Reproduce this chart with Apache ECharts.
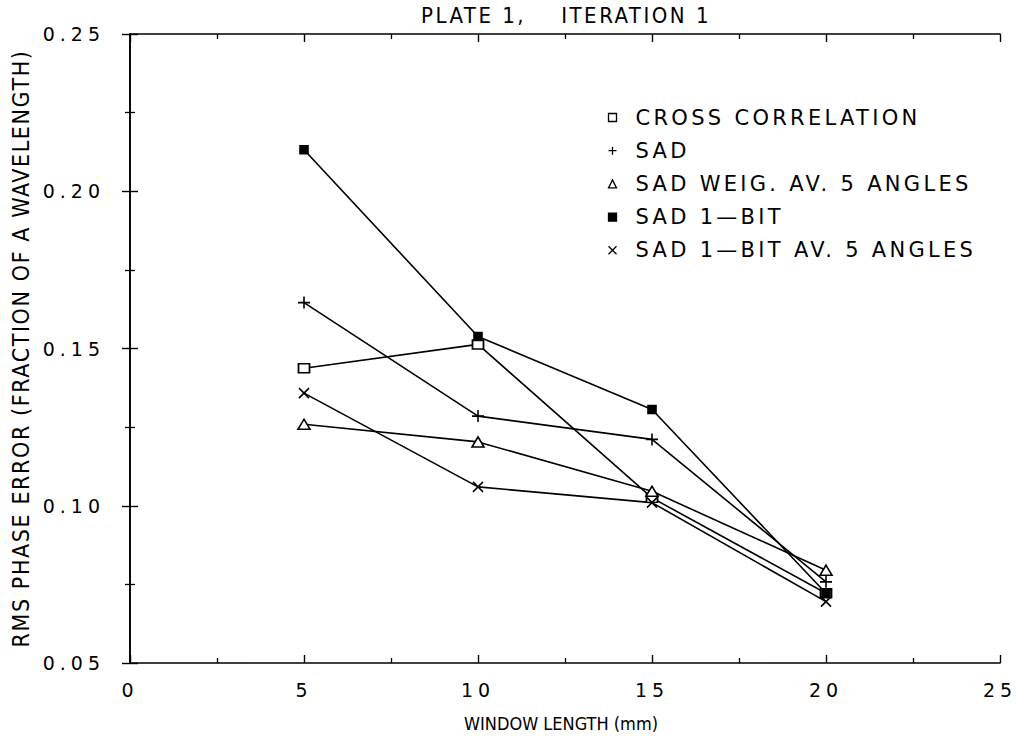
<!DOCTYPE html>
<html>
<head>
<meta charset="utf-8">
<script src="https://cdn.jsdelivr.net/npm/echarts@6/dist/echarts.min.js"></script>
<style>
  html, body { margin: 0; padding: 0; background: #fff; }
  #chart { width: 1024px; height: 755px; }
  #chart text { white-space: pre; }
</style>
</head>
<body>
<div id="chart"></div>
<script>
// ---- data ----
const windowLength = [5, 10, 15, 20];
const seriesNames = [
  'CROSS CORRELATION',
  'SAD',
  'SAD WEIG. AV. 5 ANGLES',
  'SAD 1\u2014BIT',
  'SAD 1\u2014BIT AV. 5 ANGLES'
];
const crossCorrelation = [0.1437, 0.1513, 0.1025, 0.0722];
const sad              = [0.1646, 0.1285, 0.1211, 0.0758];
const sadWeigAv5       = [0.1259, 0.1203, 0.1046, 0.0795];
const sad1Bit          = [0.2132, 0.1538, 0.1306, 0.0722];
const sad1BitAv5       = [0.1358, 0.1060, 0.1010, 0.0695];
const xTickLabels = ['0', '5', '10', '15', '20', '25'];
const yTickLabels = ['0.05', '0.10', '0.15', '0.20', '0.25'];
const titleText = 'PLATE 1,    ITERATION 1';
const xName = 'WINDOW LENGTH (mm)';
const yName = 'RMS PHASE ERROR (FRACTION OF A WAVELENGTH)';

const valuesList = [crossCorrelation, sad, sadWeigAv5, sad1Bit, sad1BitAv5];
const PLUS = 'path://M0,5 L10,5 M5,0 L5,10';
const CROSS = 'path://M0,0 L10,10 M10,0 L0,10';
const symbols = ['rect', PLUS, 'triangle', 'rect', CROSS];
const symbolSizes = [[11, 9], 12, [12, 10], [8, 8], 10];
const fills = ['#fff', 'none', '#fff', '#000', 'none'];

const wideFont = "'DejaVu Sans', sans-serif";
const narrowFont = "'Liberation Sans Narrow', 'DejaVu Sans Condensed', 'Liberation Sans', sans-serif";

const chart = echarts.init(document.getElementById('chart'), null, { renderer: 'svg' });

const series = valuesList.map((vals, i) => ({
  name: seriesNames[i],
  type: 'line',
  xAxisIndex: 0,
  yAxisIndex: 0,
  data: windowLength.map((x, j) => [x, vals[j]]),
  symbol: symbols[i],
  symbolSize: symbolSizes[i],
  showSymbol: true,
  lineStyle: { color: '#000', width: 1.6 },
  itemStyle: { color: fills[i], borderColor: '#000', borderWidth: 1.6 },
  emphasis: { disabled: true },
  z: 3
}));

const legendData = seriesNames.map((n, i) => ({
  name: n,
  icon: symbols[i],
  itemStyle: { color: fills[i], borderColor: '#000', borderWidth: 1.3 }
}));

function axisCommon() {
  return {
    axisLine: { show: true, lineStyle: { color: '#000', width: 1.6 } },
    axisTick: { show: true, inside: true, length: 8, lineStyle: { color: '#000', width: 1.4 } },
    minorTick: { show: true, splitNumber: 2, length: 5, lineStyle: { color: '#000', width: 1.3 } },
    splitLine: { show: false },
    minorSplitLine: { show: false }
  };
}

chart.setOption({
  animation: false,
  backgroundColor: '#fff',
  title: {
    text: titleText,
    left: 561, top: -1, textAlign: 'center',
    textStyle: { fontFamily: narrowFont, fontSize: 22, fontWeight: 'normal', color: '#000' }
  },
  grid: { left: 130, right: 24, top: 34, bottom: 92, containLabel: false, outerBoundsMode: 'none' },
  legend: {
    orient: 'vertical',
    left: 601, top: 102,
    itemWidth: 8, itemHeight: 8,
    itemGap: 12.2,
    selectedMode: false,
    data: legendData,
    textStyle: { fontFamily: wideFont, fontSize: 21, color: '#000', padding: [0, 0, 0, 14] }
  },
  xAxis: [
    Object.assign(axisCommon(), {
      type: 'value', min: 0, max: 25, interval: 5, position: 'bottom',
      name: xName, nameLocation: 'middle', nameGap: 51,
      nameTextStyle: { fontFamily: narrowFont, fontSize: 18, color: '#000', padding: [0, 8, 0, 0] },
      axisLabel: { margin: 17, fontFamily: wideFont, fontSize: 19, color: '#000',
                   formatter: v => xTickLabels[Math.round(v / 5)] }
    }),
    Object.assign(axisCommon(), {
      type: 'value', min: 0, max: 25, interval: 5, position: 'top',
      axisLabel: { show: false }
    })
  ],
  yAxis: [
    Object.assign(axisCommon(), {
      type: 'value', min: 0.05, max: 0.25, interval: 0.05, position: 'left',
      name: yName, nameLocation: 'middle', nameGap: 98, nameRotate: 90,
      nameTextStyle: { fontFamily: narrowFont, fontSize: 23, color: '#000' },
      axisLabel: { margin: 25, fontFamily: wideFont, fontSize: 19, color: '#000',
                   formatter: v => yTickLabels[Math.round((v - 0.05) / 0.05)] }
    }),
    Object.assign(axisCommon(), {
      type: 'value', min: 0.05, max: 0.25, interval: 0.05, position: 'right',
      axisLabel: { show: false }
    })
  ],
  series: series
});

// widen the plotter-style lettering
function spaceOut() {
  const ticks = new Set(xTickLabels.concat(yTickLabels));
  const legend = new Set(seriesNames);
  document.querySelectorAll('#chart text').forEach(t => {
    const s = t.textContent;
    if (ticks.has(s)) t.setAttribute('letter-spacing', '5px');
    else if (legend.has(s)) t.setAttribute('letter-spacing', '3.3px');
    else if (s === titleText) t.setAttribute('letter-spacing', '2.5px');
    else if (s === yName) t.setAttribute('letter-spacing', '1.6px');
  });
}
spaceOut();
chart.on('finished', spaceOut);
</script>
</body>
</html>
